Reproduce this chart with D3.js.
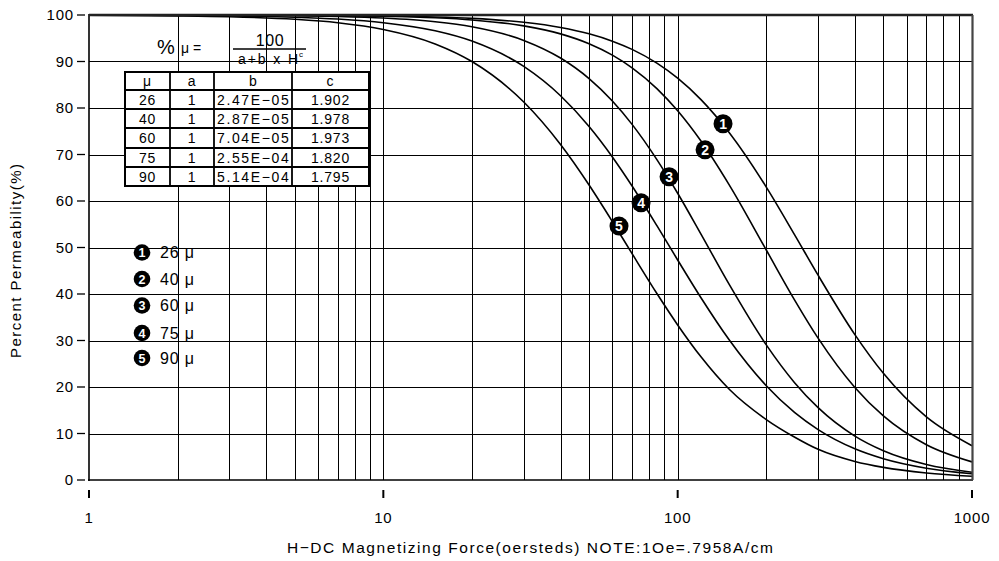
<!DOCTYPE html>
<html><head><meta charset="utf-8">
<script src="https://cdn.jsdelivr.net/npm/d3@7"></script>
<style>
body{margin:0;background:#fff;}
text{font-family:"Liberation Sans",Arial,Helvetica,sans-serif;fill:#000;}
</style>
</head><body>
<svg id="chart" width="999" height="561"></svg>
<script>
// ---------- data ----------
const hValues = [1,2,3,5,7,10,15,20,30,40,50,60,70,85,100,120,150,200,250,300,400,500,700,1000];
const curve26 = [100,99.99,99.98,99.95,99.9,99.8,99.58,99.27,98.43,97.32,95.96,94.38,92.61,89.65,86.41,81.8,74.62,62.99,52.67,44.04,31.27,22.94,13.57,7.38];
const curve40 = [100,99.99,99.97,99.93,99.87,99.73,99.4,98.94,97.66,95.94,93.82,91.37,88.65,84.18,79.4,72.89,63.36,49.46,38.64,30.5,19.9,13.78,7.59,3.9];
const curve60 = [100,99.97,99.94,99.83,99.67,99.34,98.55,97.47,94.54,90.75,86.33,81.51,76.48,68.91,61.67,52.88,41.95,29.06,20.88,15.55,9.45,6.3,3.34,1.68];
const curve75 = [99.97,99.91,99.81,99.53,99.13,98.34,96.6,94.39,88.94,82.64,76.03,69.48,63.23,54.7,47.32,39.2,30.05,20.28,14.49,10.85,6.72,4.58,2.54,1.34];
const curve90 = [99.95,99.82,99.63,99.08,98.34,96.89,93.78,89.99,81.28,72.15,63.44,55.58,48.68,40.1,33.35,26.49,19.45,13.0,9.2,6.6,3.99,2.71,1.5,0.8];

const muValues = [26,40,60,75,90];
const aValues = ["1","1","1","1","1"];
const bValues = ["2.47E\u221205","2.87E\u221205","7.04E\u221205","2.55E\u221204","5.14E\u221204"];
const cValues = ["1.902","1.978","1.973","1.820","1.795"];
const tableHeaders = ["\u03bc","a","b","c"];

// marker positions on curves (H, %)
const markerH = [142.6,123.9,93.5,75.1,63.2];
const markerP = [76.6,71.0,65.2,59.6,54.6];

const xTickLabels = [1,10,100,1000];

// ---------- setup ----------
const svg = d3.select("#chart");
svg.append("rect").attr("width",999).attr("height",561).attr("fill","#fff");

const L = 89, R = 972, T = 15, B = 480;
const x = d3.scaleLog().domain([1,1000]).range([L,R]);
const y = d3.scaleLinear().domain([0,100]).range([B,T]);

// grid
const g = svg.append("g").attr("shape-rendering","crispEdges");
g.selectAll("line.v").data(x.ticks().filter(d=>d>1&&d<1000)).join("line")
  .attr("x1",d=>Math.round(x(d))+0.5).attr("x2",d=>Math.round(x(d))+0.5)
  .attr("y1",T).attr("y2",B).attr("stroke","#000").attr("stroke-width",1.2);
g.selectAll("line.h").data(y.ticks(10).filter(d=>d>0&&d<100)).join("line")
  .attr("x1",L).attr("x2",R).attr("y1",d=>Math.round(y(d))+0.5).attr("y2",d=>Math.round(y(d))+0.5)
  .attr("stroke","#000").attr("stroke-width",1.2);

// curves
const series = [curve26,curve40,curve60,curve75,curve90];
const line = d3.line().x((d,i)=>x(hValues[i])).y(d=>y(d)).curve(d3.curveMonotoneX);
svg.append("g").selectAll("path").data(series).join("path")
  .attr("d",line).attr("fill","none").attr("stroke","#000").attr("stroke-width",1.6);

// frame
svg.append("line").attr("x1",L).attr("x2",L).attr("y1",T-1).attr("y2",B+1).attr("stroke","#000").attr("stroke-width",1.6);
svg.append("line").attr("x1",L-1).attr("x2",R+1).attr("y1",B).attr("y2",B).attr("stroke","#000").attr("stroke-width",1.6);
svg.append("line").attr("x1",L).attr("x2",R+1).attr("y1",T).attr("y2",T).attr("stroke","#222").attr("stroke-width",2.5);
svg.append("line").attr("x1",R+0.5).attr("x2",R+0.5).attr("y1",T).attr("y2",B).attr("stroke","#444").attr("stroke-width",2.2);

// y axis ticks/labels
const yt = svg.append("g");
yt.selectAll("line").data(y.ticks(10)).join("line")
  .attr("x1",77).attr("x2",85).attr("y1",d=>y(d)).attr("y2",d=>y(d))
  .attr("stroke","#000").attr("stroke-width",1.3);
yt.selectAll("text").data(y.ticks(10)).join("text")
  .attr("x",74).attr("y",d=>y(d)).attr("dy","0.35em").attr("text-anchor","end")
  .attr("font-size",15).attr("letter-spacing",0.8).text(d=>d);

// x axis ticks/labels
const xt = svg.append("g");
xt.selectAll("line").data(xTickLabels).join("line")
  .attr("x1",d=>x(d)).attr("x2",d=>x(d)).attr("y1",490).attr("y2",498)
  .attr("stroke","#000").attr("stroke-width",2);
xt.selectAll("text").data(xTickLabels).join("text")
  .attr("x",d=>x(d)).attr("y",523).attr("text-anchor","middle")
  .attr("font-size",15).attr("letter-spacing",0.8).text(d=>d);

// axis titles
svg.append("text").attr("x",530).attr("y",553).attr("text-anchor","middle")
  .attr("font-size",15.5).attr("textLength",486).attr("lengthAdjust","spacing")
  .text("H\u2212DC Magnetizing Force(oersteds) NOTE:1Oe=.7958A/cm");
svg.append("text").attr("transform","translate(21,261) rotate(-90)").attr("text-anchor","middle")
  .attr("font-size",15).attr("textLength",194).attr("lengthAdjust","spacing")
  .text("Percent Permeability(%)");

// formula
const f = svg.append("g");
f.append("text").attr("x",157).attr("y",54).attr("font-size",20).text("%");
f.append("text").attr("x",181).attr("y",53).attr("font-size",14).text("\u03bc =");
f.append("text").attr("x",270).attr("y",46).attr("text-anchor","middle").attr("font-size",16).attr("letter-spacing",0.6).text("100");
f.append("line").attr("x1",233).attr("x2",306).attr("y1",49).attr("y2",49).attr("stroke","#000").attr("stroke-width",1.6);
f.append("text").attr("x",238).attr("y",64).attr("font-size",14).attr("textLength",60).attr("lengthAdjust","spacing").text("a+b x H");
f.append("text").attr("x",299).attr("y",57).attr("font-size",8).text("c");

// table
const colX = [125,170,214,292,369];
const rowY = [72,90,109,128,148,167,186];
const tb = svg.append("g");
tb.append("rect").attr("x",colX[0]).attr("y",rowY[0]).attr("width",colX[4]-colX[0]).attr("height",rowY[6]-rowY[0])
  .attr("fill","#fff").attr("stroke","#000").attr("stroke-width",2);
tb.selectAll("line.c").data(colX.slice(1,4)).join("line")
  .attr("x1",d=>d).attr("x2",d=>d).attr("y1",rowY[0]).attr("y2",rowY[6]).attr("stroke","#000").attr("stroke-width",1.8);
tb.selectAll("line.r").data(rowY.slice(1,6)).join("line")
  .attr("x1",colX[0]).attr("x2",colX[4]).attr("y1",d=>d).attr("y2",d=>d).attr("stroke","#000").attr("stroke-width",1.8);
const rows = [tableHeaders].concat(muValues.map((m,i)=>[String(m),aValues[i],bValues[i],cValues[i]]));
rows.forEach((r,ri)=>{
  r.forEach((v,ci)=>{
    const cx = (colX[ci]+colX[ci+1])/2;
    const cy = (rowY[ri]+rowY[ri+1])/2;
    const t = tb.append("text").attr("x",cx).attr("y",cy).attr("dy","0.37em").attr("text-anchor","middle")
      .attr("font-size",14).attr("letter-spacing",ci===2?0.3:0.8).text(v);
    if (ci===2 && ri>0) t.attr("textLength",72).attr("lengthAdjust","spacing");
  });
});

// legend
const lg = svg.append("g");
const legY = [252.5,279,305.5,333,358];
muValues.forEach((m,i)=>{
  lg.append("circle").attr("cx",142).attr("cy",legY[i]).attr("r",8.3).attr("fill","#000");
  lg.append("text").attr("x",142).attr("y",legY[i]).attr("dy","0.36em").attr("text-anchor","middle")
    .attr("font-size",12.5).attr("font-weight","bold").style("fill","#fff").text(i+1);
  lg.append("text").attr("x",160).attr("y",legY[i]).attr("dy","0.36em").attr("font-size",16).attr("letter-spacing",0.8)
    .text(m+" \u03bc");
});

// curve markers
const mk = svg.append("g");
markerH.forEach((h,i)=>{
  mk.append("circle").attr("cx",x(h)).attr("cy",y(markerP[i])).attr("r",9.5).attr("fill","#000");
  mk.append("text").attr("x",x(h)).attr("y",y(markerP[i])).attr("dy","0.36em").attr("text-anchor","middle")
    .attr("font-size",14).attr("font-weight","bold").style("fill","#fff").text(i+1);
});
</script>
</body></html>
